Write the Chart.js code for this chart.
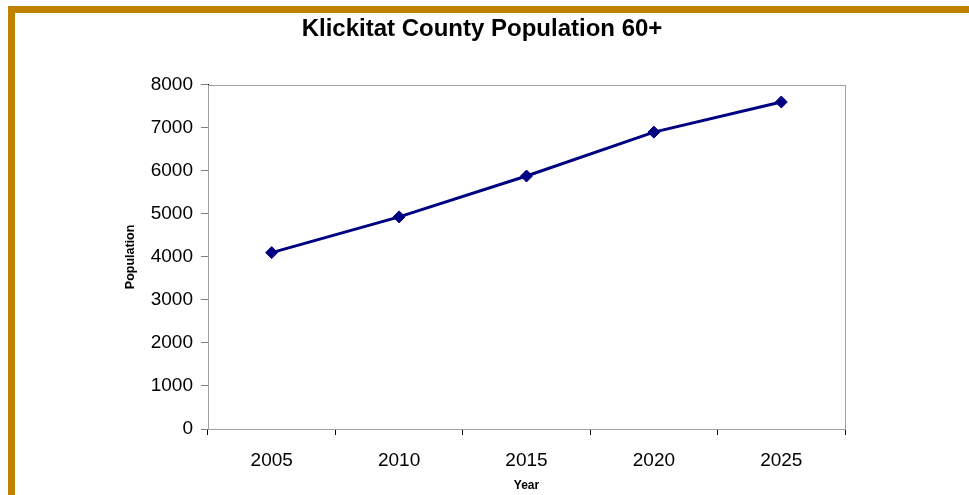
<!DOCTYPE html>
<html>
<head>
<meta charset="utf-8">
<script src="https://cdn.jsdelivr.net/npm/chart.js@4"></script>
<style>
  html, body { margin: 0; padding: 0; background: #fff; }
  #wrap { position: relative; width: 969px; height: 495px; overflow: hidden; }
  #c { position: absolute; left: 0; top: 0; }
  .bl { position: absolute; left: 8px; top: 6px; width: 7px; height: 489px; background: rgb(192,128,0); }
  .bt { position: absolute; left: 8px; top: 6px; width: 961px; height: 7px; background: rgb(192,128,0); }
</style>
</head>
<body>
<div id="wrap">
  <canvas id="c" width="969" height="495"></canvas>
  <div class="bl"></div>
  <div class="bt"></div>
</div>
<script>
const categories = ["2005", "2010", "2015", "2020", "2025"];
const population = [4100, 4930, 5880, 6900, 7600];
const yMin = 0, yMax = 8000, yStep = 1000;
const titleText = "Klickitat County Population 60+";
const xTitle = "Year";
const yTitle = "Population";

const plotFrame = {
  id: 'plotFrame',
  beforeDatasetsDraw(chart) {
    const a = chart.chartArea, ctx = chart.ctx;
    ctx.save();
    ctx.strokeStyle = '#a0a0a0';
    ctx.lineWidth = 1;
    ctx.strokeRect(Math.round(a.left) + 0.5, Math.round(a.top) + 0.5, Math.round(a.right - a.left), Math.round(a.bottom - a.top));
    ctx.restore();
  }
};

new Chart(document.getElementById('c'), {
  type: 'line',
  data: {
    labels: categories,
    datasets: [{
      data: population,
      borderColor: '#000080',
      backgroundColor: '#000080',
      borderWidth: 3,
      pointStyle: 'rectRot',
      pointRadius: 6,
      pointBorderWidth: 1,
      pointBackgroundColor: '#000080',
      pointBorderColor: '#000080',
      tension: 0,
      fill: false
    }]
  },
  options: {
    responsive: false,
    animation: false,
    devicePixelRatio: 1,
    layout: { padding: { left: 0, right: 5, top: 0, bottom: 0 } },
    plugins: {
      legend: { display: false },
      tooltip: { enabled: false },
      title: {
        display: true,
        text: titleText,
        color: '#000',
        font: { family: 'Liberation Sans, Arial, sans-serif', size: 24, weight: 'bold', lineHeight: 1.2 },
        padding: { top: 15, bottom: 41 }
      }
    },
    scales: {
      x: {
        type: 'category',
        offset: true,
        grid: { offset: true, drawOnChartArea: false, drawTicks: true, tickLength: 6, color: '#000' },
        border: { display: true, color: '#000', width: 1 },
        ticks: { color: '#000', padding: 14, font: { family: 'Liberation Sans, Arial, sans-serif', size: 19 } },
        title: { display: true, text: xTitle, color: '#000', padding: { top: 0, bottom: 2 },
                 font: { family: 'Liberation Sans, Arial, sans-serif', size: 12, weight: 'bold', lineHeight: 1.2 } },
        afterFit(s) { s.height = 66; }
      },
      y: {
        min: yMin, max: yMax,
        ticks: { stepSize: yStep, color: '#000', padding: 8,
                 callback: (v) => String(v),
                 font: { family: 'Liberation Sans, Arial, sans-serif', size: 19 } },
        grid: { drawOnChartArea: false, drawTicks: true, tickLength: 7, color: '#808080' },
        border: { display: true, color: '#000', width: 1 },
        title: { display: true, text: yTitle, color: '#000', padding: { top: 123, bottom: 0 },
                 font: { family: 'Liberation Sans, Arial, sans-serif', size: 12.5, weight: 'bold', lineHeight: 1.2 } },
        afterFit(s) { s.width = 208; }
      },
      yR: {
        position: 'right',
        display: true,
        ticks: { display: false },
        grid: { display: false },
        border: { display: false },
        afterFit(s) { s.width = 119; }
      }
    }
  },
  plugins: [plotFrame]
});
</script>
</body>
</html>
